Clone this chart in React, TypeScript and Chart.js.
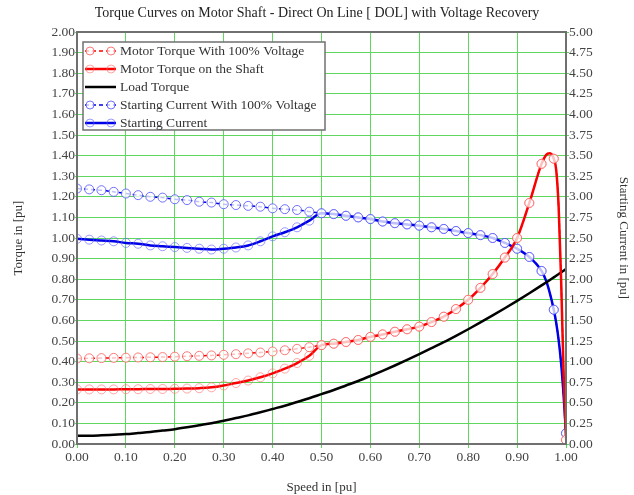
import React, { useEffect, useRef } from 'react';
import { Chart, registerables } from 'chart.js';

Chart.register(...registerables);

const TITLE = 'Torque Curves on Motor Shaft - Direct On Line [ DOL] with Voltage Recovery';
const X_TITLE = 'Speed in [pu]';
const Y_TITLE = 'Torque in [pu]';
const Y1_TITLE = 'Starting Current in [pu]';

// Speed [pu]
const SPEED = [
  0.000, 0.025, 0.050, 0.075, 0.100, 0.125, 0.150, 0.175, 0.200, 0.225,
  0.250, 0.275, 0.300, 0.325, 0.350, 0.375, 0.400, 0.425, 0.450, 0.475,
  0.500, 0.525, 0.550, 0.575, 0.600, 0.625, 0.650, 0.675, 0.700, 0.725,
  0.750, 0.775, 0.800, 0.825, 0.850, 0.875, 0.900, 0.925, 0.950, 0.960,
  0.967, 0.975, 0.980, 0.985, 0.990, 0.995, 1.000,
];

// Torque with 100% voltage, speed 0 .. 0.475
const TORQUE_FULL_LOW = [
  0.415, 0.416, 0.417, 0.418, 0.419, 0.420, 0.421, 0.422, 0.424, 0.426,
  0.428, 0.430, 0.433, 0.436, 0.440, 0.444, 0.449, 0.455, 0.462, 0.470,
];
// Torque on the shaft, speed 0 .. 0.475
const TORQUE_SHAFT_LOW = [
  0.265, 0.265, 0.265, 0.265, 0.266, 0.266, 0.267, 0.267, 0.268, 0.269,
  0.271, 0.275, 0.284, 0.296, 0.308, 0.324, 0.343, 0.366, 0.393, 0.428,
];
// Torque after voltage recovery (both curves), speed 0.5 .. 1.0
const TORQUE_COMMON = [
  0.480, 0.487, 0.495, 0.505, 0.520, 0.532, 0.545, 0.557, 0.570, 0.592,
  0.618, 0.655, 0.700, 0.758, 0.825, 0.905, 1.000, 1.170, 1.360, 1.405,
  1.412, 1.385, 1.330, 1.150, 0.800, 0.350, 0.020,
];
// Load torque, speed 0 .. 1.0
const LOAD_TORQUE = [
  0.040, 0.040, 0.042, 0.045, 0.048, 0.053, 0.058, 0.065, 0.072, 0.081,
  0.091, 0.101, 0.113, 0.126, 0.139, 0.154, 0.170, 0.186, 0.204, 0.222,
  0.242, 0.262, 0.284, 0.306, 0.330, 0.355, 0.381, 0.408, 0.436, 0.465,
  0.494, 0.525, 0.557, 0.590, 0.624, 0.659, 0.695, 0.732, 0.770, 0.785,
  0.796, 0.809, 0.817, 0.825, 0.833, 0.841, 0.849,
];
// Starting current with 100% voltage, speed 0 .. 0.475
const CURRENT_FULL_LOW = [
  3.10, 3.09, 3.08, 3.06, 3.04, 3.02, 3.00, 2.99, 2.97, 2.96,
  2.94, 2.93, 2.91, 2.90, 2.89, 2.88, 2.86, 2.85, 2.84, 2.82,
];
// Starting current, speed 0 .. 0.475
const CURRENT_LOW = [
  2.49, 2.48, 2.47, 2.46, 2.44, 2.43, 2.41, 2.40, 2.39, 2.38,
  2.37, 2.36, 2.37, 2.385, 2.41, 2.46, 2.52, 2.57, 2.63, 2.71,
];
// Current after voltage recovery (both curves), speed 0.5 .. 1.0
const CURRENT_COMMON = [
  2.80, 2.79, 2.77, 2.75, 2.73, 2.70, 2.68, 2.665, 2.65, 2.63,
  2.61, 2.585, 2.56, 2.535, 2.50, 2.44, 2.37, 2.27, 2.10, 1.97,
  1.83, 1.63, 1.47, 1.26, 0.98, 0.60, 0.13,
];

const FONT = '"Liberation Serif", "Times New Roman", serif';
const GRID = 'rgb(95,215,95)';
const RED = 'rgb(250,0,0)';
const BLUE = 'rgb(0,0,230)';

const toPoints = (ys: number[]) => SPEED.map((x, i) => ({ x, y: ys[i] }));
const markerRadius = (r: number) =>
  SPEED.map((s) => (Math.abs(s * 40 - Math.round(s * 40)) < 1e-6 ? r : 0));

const frameAndLegend = {
  id: 'frameAndLegend',
  afterDatasetsDraw(chart: any) {
    const { ctx, chartArea: ca } = chart;
    ctx.save();
    ctx.strokeStyle = '#707070';
    ctx.lineWidth = 2;
    ctx.setLineDash([]);
    ctx.strokeRect(ca.left, ca.top, ca.right - ca.left, ca.bottom - ca.top);
    ctx.restore();
  },
  afterDraw(chart: any) {
    const { ctx, chartArea: ca } = chart;
    const x = ca.left + 6;
    const y = ca.top + 10;
    const w = 242;
    const h = 88;
    ctx.save();
    ctx.fillStyle = '#ffffff';
    ctx.fillRect(x, y, w, h);
    ctx.strokeStyle = '#707070';
    ctx.lineWidth = 1.5;
    ctx.setLineDash([]);
    ctx.strokeRect(x, y, w, h);
    chart.data.datasets.forEach((ds: any, i: number) => {
      const cy = y + 9 + i * 18;
      ctx.setLineDash(ds.borderDash || []);
      ctx.strokeStyle = ds.borderColor;
      ctx.lineWidth = ds.borderWidth;
      ctx.beginPath();
      ctx.moveTo(x + 2, cy);
      ctx.lineTo(x + 33, cy);
      ctx.stroke();
      ctx.setLineDash([]);
      if (ds.legendMarker) {
        [x + 7, x + 28].forEach((mx) => {
          ctx.beginPath();
          ctx.arc(mx, cy, 4, 0, Math.PI * 2);
          ctx.fillStyle = ds.pointBackgroundColor;
          ctx.fill();
          ctx.strokeStyle = ds.pointBorderColor;
          ctx.lineWidth = 1;
          ctx.stroke();
        });
      }
      ctx.fillStyle = '#333';
      ctx.font = `13.5px ${FONT}`;
      ctx.textBaseline = 'middle';
      ctx.textAlign = 'left';
      ctx.fillText(ds.label, x + 37, cy);
    });
    ctx.restore();
  },
};

export default function App() {
  const ref = useRef<HTMLCanvasElement>(null);

  useEffect(() => {
    const canvas = ref.current;
    if (!canvas) return;
    const torqueFull = [...TORQUE_FULL_LOW, ...TORQUE_COMMON];
    const torqueShaft = [...TORQUE_SHAFT_LOW, ...TORQUE_COMMON];
    const currentFull = [...CURRENT_FULL_LOW, ...CURRENT_COMMON];
    const current = [...CURRENT_LOW, ...CURRENT_COMMON];

    const chart = new Chart(canvas, {
      type: 'line',
      data: {
        datasets: [
          {
            label: 'Motor Torque With 100% Voltage',
            data: toPoints(torqueFull),
            yAxisID: 'y',
            borderColor: RED,
            borderWidth: 1.5,
            borderDash: [4, 3],
            pointStyle: 'circle',
            pointRadius: markerRadius(4.5),
            pointBorderColor: 'rgba(255,90,90,0.8)',
            pointBackgroundColor: 'rgba(255,255,255,0.75)',
            pointBorderWidth: 1,
            cubicInterpolationMode: 'monotone',
            legendMarker: true,
          } as any,
          {
            label: 'Motor Torque on the Shaft',
            data: toPoints(torqueShaft),
            yAxisID: 'y',
            borderColor: RED,
            borderWidth: 2.5,
            pointStyle: 'circle',
            pointRadius: markerRadius(4.5),
            pointBorderColor: 'rgba(255,110,110,0.6)',
            pointBackgroundColor: 'rgba(255,255,255,0)',
            pointBorderWidth: 1,
            cubicInterpolationMode: 'monotone',
            legendMarker: true,
          } as any,
          {
            label: 'Load Torque',
            data: toPoints(LOAD_TORQUE),
            yAxisID: 'y',
            borderColor: '#000000',
            borderWidth: 2.5,
            pointRadius: 0,
            cubicInterpolationMode: 'monotone',
          } as any,
          {
            label: 'Starting Current With 100% Voltage',
            data: toPoints(currentFull),
            yAxisID: 'y1',
            borderColor: BLUE,
            borderWidth: 1.5,
            borderDash: [4, 3],
            pointStyle: 'circle',
            pointRadius: markerRadius(4.5),
            pointBorderColor: 'rgba(70,70,255,0.75)',
            pointBackgroundColor: 'rgba(255,255,255,0.75)',
            pointBorderWidth: 1,
            cubicInterpolationMode: 'monotone',
            legendMarker: true,
          } as any,
          {
            label: 'Starting Current',
            data: toPoints(current),
            yAxisID: 'y1',
            borderColor: BLUE,
            borderWidth: 2.5,
            pointStyle: 'circle',
            pointRadius: markerRadius(4.5),
            pointBorderColor: 'rgba(90,90,255,0.6)',
            pointBackgroundColor: 'rgba(255,255,255,0)',
            pointBorderWidth: 1,
            cubicInterpolationMode: 'monotone',
            legendMarker: true,
          } as any,
        ],
      },
      options: {
        responsive: false,
        animation: false,
        layout: { padding: 0, autoPadding: false },
        plugins: {
          legend: { display: false },
          tooltip: { enabled: false },
          title: {
            display: true,
            text: TITLE,
            color: '#222',
            font: { family: FONT, size: 14, weight: 'normal' },
            padding: { top: 5, bottom: 10.2 },
          },
        },
        scales: {
          x: {
            type: 'linear',
            min: 0,
            max: 1,
            afterFit: (s: any) => { s.height = 51; },
            ticks: {
              stepSize: 0.1,
              color: '#444',
              font: { family: FONT, size: 13.5 },
              padding: 1,
              maxRotation: 0,
              callback: (v: any) => Number(v).toFixed(2),
            },
            grid: { color: GRID, lineWidth: 1, tickLength: 4, tickColor: GRID },
            border: { color: '#707070', width: 2 },
            title: {
              display: true,
              text: X_TITLE,
              color: '#333',
              font: { family: FONT, size: 13 },
              padding: { top: 0, bottom: 0 },
            },
          },
          y: {
            type: 'linear',
            position: 'left',
            min: 0,
            max: 2,
            afterFit: (s: any) => { s.width = 77; },
            ticks: {
              stepSize: 0.1,
              color: '#444',
              font: { family: FONT, size: 13.5 },
              padding: 0,
              callback: (v: any) => Number(v).toFixed(2),
            },
            grid: { color: GRID, lineWidth: 1, tickLength: 2, tickColor: GRID },
            border: { color: '#707070', width: 2 },
            title: {
              display: true,
              text: Y_TITLE,
              color: '#333',
              font: { family: FONT, size: 13 },
              padding: { top: 11, bottom: 0 },
            },
          },
          y1: {
            type: 'linear',
            position: 'right',
            min: 0,
            max: 5,
            afterFit: (s: any) => { s.width = 68; },
            ticks: {
              stepSize: 0.25,
              color: '#444',
              font: { family: FONT, size: 13.5 },
              padding: 0,
              callback: (v: any) => Number(v).toFixed(2),
            },
            grid: { drawOnChartArea: false, tickLength: 3, tickColor: GRID },
            border: { color: '#707070', width: 2 },
            title: {
              display: true,
              text: Y1_TITLE,
              color: '#333',
              font: { family: FONT, size: 13 },
              padding: { top: 3, bottom: 0 },
            },
          },
        },
      },
      plugins: [frameAndLegend],
    });
    return () => chart.destroy();
  }, []);

  return (
    <div style={{ position: 'absolute', left: 0, top: 0, width: 634, height: 495, background: '#fff' }}>
      <canvas ref={ref} width={634} height={495} style={{ width: 634, height: 495, display: 'block' }} />
    </div>
  );
}
